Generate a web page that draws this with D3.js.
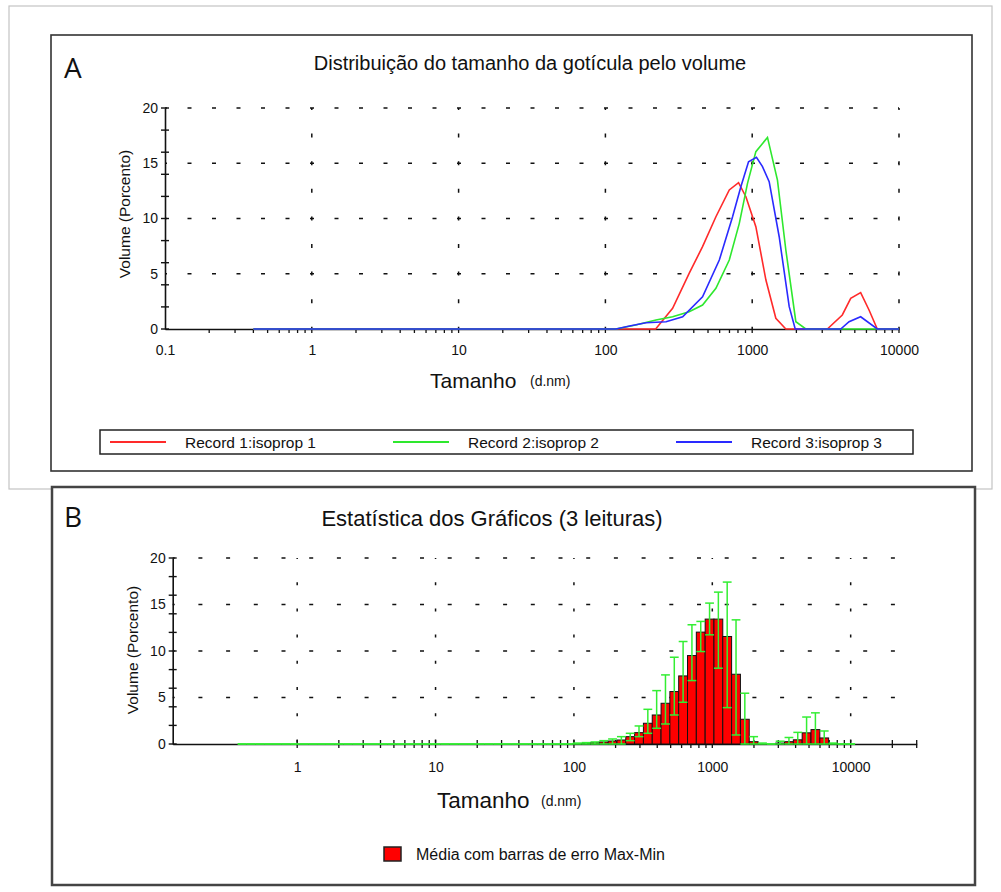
<!DOCTYPE html>
<html>
<head>
<meta charset="utf-8">
<script src="https://cdn.jsdelivr.net/npm/d3@7"></script>
<style>
  body { margin: 0; background: #fff; }
  text { font-family: "Liberation Sans", Arial, sans-serif; fill: #111; }
</style>
</head>
<body>
<div id="chart"></div>
<script>
// Panel A: three records, [size d.nm, volume %]
const record1 = [[0.4,0],[220,0],[287,1.87],[372,5.04],[459,7.45],[566,10.16],[698,12.58],[807,13.24],[906,11.97],[1059,9.26],[1240,4.43],[1449,0.97],[1695,0],[3250,0],[4110,1.27],[4690,2.78],[5480,3.29],[6250,1.72],[7110,0],[10000,0]];
const record2 = [[0.4,0],[118,0],[161,0.36],[221,0.81],[287,1.11],[372,1.57],[459,2.17],[566,3.68],[698,6.24],[817,9.56],[929,13.18],[1059,16.05],[1271,17.34],[1486,13.48],[1695,7.15],[1983,0.66],[2318,0],[10000,0]];
const record3 = [[0.4,0],[118,0],[146,0.27],[189,0.57],[259,0.66],[336,1.11],[459,2.92],[597,6.24],[735,10.16],[837,12.88],[944,15.14],[1069,15.54],[1175,14.69],[1305,13.33],[1527,8.35],[1787,2.02],[1963,0],[4010,0],[4570,0.66],[5480,1.11],[7110,0],[10000,0]];
const recordNames = ["Record 1:isoprop 1", "Record 2:isoprop 2", "Record 3:isoprop 3"];

// Panel B: size classes and mean / max / min volume %
const binSizes = [0.4,0.4632,0.5365,0.6213,0.7195,0.8332,0.9649,1.117,1.294,1.499,1.736,2.01,2.328,2.696,3.122,3.615,4.187,4.849,5.615,6.503,7.531,8.721,10.1,11.7,13.54,15.69,18.17,21.04,24.36,28.21,32.67,37.84,43.82,50.75,58.77,68.06,78.82,91.28,105.7,122.4,141.8,164.2,190.1,220.2,255,295.3,342,396.1,458.7,531.2,615.1,712.4,825,955.4,1106,1281,1484,1718,1990,2305,2669,3091,3580,4145,4801,5560,6439,7456,8635,10000];
const meanPct = [0,0,0,0,0,0,0,0,0,0,0,0,0,0,0,0,0,0,0,0,0,0,0,0,0,0,0,0,0,0,0,0,0,0,0,0,0,0,
  0.04,0.07,0.14,0.22,0.32,0.43,0.79,1.22,2.23,3.12,4.38,5.64,7.32,9.51,12.03,13.43,13.43,11.56,7.5,2.66,0.25,0,0,0.1,0.25,0.45,1.2,1.55,0.65,0.05,0,0];
const maxPct = [0,0,0,0,0,0,0,0,0,0,0,0,0,0,0,0,0,0,0,0,0,0,0,0,0,0,0,0,0,0,0,0,0,0,0,0,0,0,
  0.1,0.15,0.22,0.36,0.54,0.79,1.15,1.94,3.73,5.74,7.43,9.33,11.02,12.82,13.18,15.15,16.33,17.41,13.35,5.46,0.79,0.1,0,0.3,0.7,1.25,2.9,3.35,1.4,0.1,0,0];
const minPct = [0,0,0,0,0,0,0,0,0,0,0,0,0,0,0,0,0,0,0,0,0,0,0,0,0,0,0,0,0,0,0,0,0,0,0,0,0,0,
  0,0,0,0,0,0,0.36,0.79,1.15,1.69,2.15,3.12,4.49,6.82,9.94,11.74,8.15,3.91,0.97,0,0,0,0,0,0,0,0,0,0,0,0,0];

// Tick labels
const yTicks = [0, 5, 10, 15, 20];
const xTicksA = [0.1, 1, 10, 100, 1000, 10000];
const xLabelsA = ["0.1", "1", "10", "100", "1000", "10000"];
const xTicksB = [1, 10, 100, 1000, 10000];
const xLabelsB = ["1", "10", "100", "1000", "10000"];

const colors = ["#ff2a2a", "#2ee82e", "#2a2aff"];
const errColor = "#33ee33";

const width = 1001;
const height = 892;

const svg = d3.select("#chart")
  .append("svg")
  .attr("width", width)
  .attr("height", height);

// outer light border and the two panel frames
svg.append("rect").attr("x", 9).attr("y", 6).attr("width", 983).attr("height", 483)
  .attr("fill", "none").attr("stroke", "#c4c4c4").attr("stroke-width", 1.2);
svg.append("rect").attr("x", 51).attr("y", 35).attr("width", 921).attr("height", 436)
  .attr("fill", "#fff").attr("stroke", "#333").attr("stroke-width", 1.6);
svg.append("rect").attr("x", 52).attr("y", 487).attr("width", 923).attr("height", 398)
  .attr("fill", "#fff").attr("stroke", "#444").attr("stroke-width", 2.5);

// draws dotted grid, y axis and x axis line for one panel
function drawAxes(g, x, y, xTicks, xLabels, opt) {
  const [x0, x1] = x.range();
  const [yb, yt] = y.range();

  // horizontal dotted grid
  g.selectAll(".hgrid")
    .data(yTicks.slice(1))
    .enter().append("line")
    .attr("x1", x0).attr("x2", x1)
    .attr("y1", (d) => y(d)).attr("y2", (d) => y(d))
    .attr("stroke", "#111").attr("stroke-width", 1.5)
    .attr("stroke-dasharray", opt.hDash).attr("stroke-dashoffset", 2);

  // vertical dotted grid at decades
  g.selectAll(".vgrid")
    .data(opt.vGrid)
    .enter().append("line")
    .attr("x1", (d) => x(d)).attr("x2", (d) => x(d))
    .attr("y1", yt).attr("y2", yb)
    .attr("stroke", "#111").attr("stroke-width", 1.5)
    .attr("stroke-dasharray", opt.vDash).attr("stroke-dashoffset", 2);

  // y axis
  const yAxis = g.append("g")
    .attr("transform", `translate(${x0},0)`)
    .call(d3.axisLeft(y).tickValues(yTicks).tickSize(0).tickPadding(7));
  yAxis.select(".domain").attr("stroke", "#111").attr("stroke-width", 1.6);
  yAxis.selectAll("text").style("font-size", "14px");

  // y ticks every 2.5 crossing the axis
  g.selectAll(".ytick")
    .data(y.ticks(8))
    .enter().append("line")
    .attr("x1", x0 - 4).attr("x2", x0 + 4)
    .attr("y1", (d) => y(d)).attr("y2", (d) => y(d))
    .attr("stroke", "#111").attr("stroke-width", 1.4);

  // x axis
  const xAxis = g.append("g")
    .attr("transform", `translate(0,${yb})`)
    .call(d3.axisBottom(x).tickValues(xTicks).tickFormat((d, i) => xLabels[i]).tickSize(0).tickPadding(opt.pad));
  xAxis.select(".domain").attr("stroke", "#111").attr("stroke-width", 1.6);
  xAxis.selectAll("text").style("font-size", "14px");

  // minor x ticks
  g.selectAll(".xtick")
    .data(x.ticks().filter((d) => d >= opt.minorFrom))
    .enter().append("line")
    .attr("x1", (d) => x(d)).attr("x2", (d) => x(d))
    .attr("y1", yb - opt.tickUp).attr("y2", yb + 4)
    .attr("stroke", "#111").attr("stroke-width", 1.3);
}

// ---------------- Panel A ----------------
const xA = d3.scaleLog().domain([0.1, 10000]).range([165, 899]);
const yA = d3.scaleLinear().domain([0, 20]).range([329, 108]);
const gA = svg.append("g");

drawAxes(gA, xA, yA, xTicksA, xLabelsA, {
  hDash: "4 20.5", vDash: "4 23.6", vGrid: [1, 10, 100, 1000, 10000],
  pad: 16, minorFrom: 0.2, tickUp: 0
});

const lineA = d3.line().x((d) => xA(d[0])).y((d) => yA(d[1]));
[record1, record2, record3].forEach((rec, i) => {
  gA.append("path")
    .datum(rec)
    .attr("d", lineA)
    .attr("fill", "none")
    .attr("stroke", colors[i])
    .attr("stroke-width", 1.6);
});

svg.append("text").attr("x", 64).attr("y", 78)
  .style("font-family", "'Open Sans', sans-serif").style("font-size", "28px").text("A");
svg.append("text").attr("x", 530).attr("y", 70).attr("text-anchor", "middle")
  .style("font-size", "20px").text("Distribuição do tamanho da gotícula pelo volume");
svg.append("text").attr("transform", "translate(130,214) rotate(-90)").attr("text-anchor", "middle")
  .style("font-size", "15.5px").text("Volume (Porcento)");
svg.append("text").attr("x", 430).attr("y", 388).style("font-size", "21px").text("Tamanho");
svg.append("text").attr("x", 530).attr("y", 386).style("font-size", "14px").text("(d.nm)");

// legend A
svg.append("rect").attr("x", 100).attr("y", 430).attr("width", 813).attr("height", 24)
  .attr("fill", "#fff").attr("stroke", "#222").attr("stroke-width", 1.5);
recordNames.forEach((name, i) => {
  const lx = 110 + i * 283;
  svg.append("line").attr("x1", lx).attr("x2", lx + 56).attr("y1", 442).attr("y2", 442)
    .attr("stroke", colors[i]).attr("stroke-width", 2);
  svg.append("text").attr("x", lx + 75).attr("y", 447.5).style("font-size", "15.5px").text(name);
});

// ---------------- Panel B ----------------
const xB = d3.scaleLog().domain([0.126, 30000]).range([172.7, 916.7]);
const yB = d3.scaleLinear().domain([0, 20]).range([744, 558]);
const gB = svg.append("g");

drawAxes(gB, xB, yB, xTicksB, xLabelsB, {
  hDash: "4 23.7", vDash: "3 23.2", vGrid: [1, 10, 100, 1000, 10000],
  pad: 18, minorFrom: 1, tickUp: 4
});

// half-width of a size class on the log axis
const halfW = (i) => {
  const j = i < binSizes.length - 1 ? i + 1 : i - 1;
  return Math.abs(xB(binSizes[j]) - xB(binSizes[i])) / 2;
};

// bars (mean)
gB.selectAll(".bar")
  .data(binSizes.map((s, i) => i).filter((i) => meanPct[i] > 0))
  .enter().append("rect")
  .attr("x", (i) => xB(binSizes[i]) - halfW(i))
  .attr("y", (i) => yB(meanPct[i]))
  .attr("width", (i) => 2 * halfW(i))
  .attr("height", (i) => yB(0) - yB(meanPct[i]))
  .attr("fill", "#ff0000")
  .attr("stroke", "#111")
  .attr("stroke-width", 1);

// error bars max-min
const errG = gB.selectAll(".err")
  .data(binSizes.map((s, i) => i))
  .enter().append("g");
errG.append("line")
  .attr("x1", (i) => xB(binSizes[i])).attr("x2", (i) => xB(binSizes[i]))
  .attr("y1", (i) => yB(minPct[i])).attr("y2", (i) => yB(maxPct[i]))
  .attr("stroke", errColor).attr("stroke-width", 1.5);
[maxPct, minPct].forEach((vals) => {
  errG.append("line")
    .attr("x1", (i) => xB(binSizes[i]) - halfW(i)).attr("x2", (i) => xB(binSizes[i]) + halfW(i))
    .attr("y1", (i) => yB(vals[i])).attr("y2", (i) => yB(vals[i]))
    .attr("stroke", errColor).attr("stroke-width", 1.5);
});

svg.append("text").attr("x", 64).attr("y", 527)
  .style("font-family", "'Open Sans', sans-serif").style("font-size", "28px").text("B");
svg.append("text").attr("x", 492).attr("y", 526).attr("text-anchor", "middle")
  .style("font-size", "22px").text("Estatística dos Gráficos (3 leituras)");
svg.append("text").attr("transform", "translate(138,650) rotate(-90)").attr("text-anchor", "middle")
  .style("font-size", "15.5px").text("Volume (Porcento)");
svg.append("text").attr("x", 437).attr("y", 808).style("font-size", "22.5px").text("Tamanho");
svg.append("text").attr("x", 541).attr("y", 806).style("font-size", "14px").text("(d.nm)");

// legend B
svg.append("rect").attr("x", 384).attr("y", 847).attr("width", 17).attr("height", 14)
  .attr("fill", "#ff0000").attr("stroke", "#222").attr("stroke-width", 1.5);
svg.append("text").attr("x", 416).attr("y", 860).style("font-size", "16px")
  .text("Média com barras de erro Max-Min");
</script>
</body>
</html>
